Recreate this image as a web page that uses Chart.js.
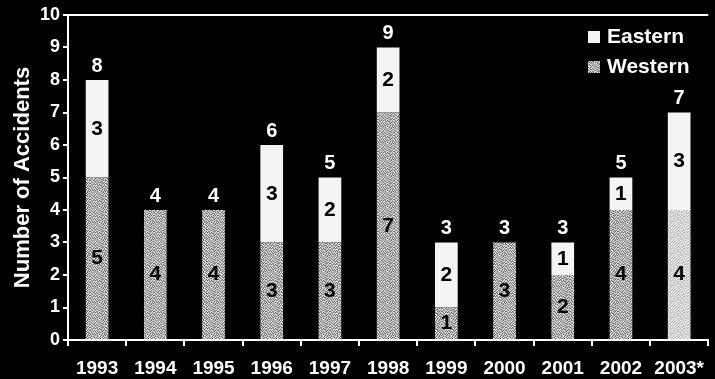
<!DOCTYPE html>
<html>
<head>
<meta charset="utf-8">
<script src="https://cdn.jsdelivr.net/npm/chart.js@4.4.1/dist/chart.umd.min.js"></script>
<style>
  html, body { margin: 0; padding: 0; background: #000; }
  #wrap { width: 715px; height: 379px; }
</style>
</head>
<body>
<div id="wrap"><canvas id="chart" width="715" height="379"></canvas></div>
<script>
const years = ['1993', '1994', '1995', '1996', '1997', '1998', '1999', '2000', '2001', '2002', '2003*'];
const western = [5, 4, 4, 3, 3, 7, 1, 3, 2, 4, 4];
const eastern = [3, 0, 0, 3, 2, 2, 2, 0, 1, 1, 3];
const yTicks = [0, 1, 2, 3, 4, 5, 6, 7, 8, 9, 10];

const FONT = "'Liberation Sans', Arial, sans-serif";

// grainy grey fill, like the halftone in the original
function makeSpeckle(shades) {
    const rows = [
        '2012021021201021',
        '0120210201022102',
        '1201022012101220',
        '2021100120210201',
        '0210212010022012',
        '1022001221201200',
        '2100120102120121',
        '0121201020012102',
        '1020120212102010',
        '2201002101210221',
        '0112201020021102',
        '2010210212102020',
        '1202012001201211',
        '0021120210120102',
        '2110201202011020',
        '1022102010202201'
    ];
    const c = document.createElement('canvas');
    c.width = 16; c.height = 16;
    const g = c.getContext('2d');
    rows.forEach((row, y) => {
        for (let x = 0; x < 16; x++) {
            g.fillStyle = shades[+row[x]];
            g.fillRect(x, y, 1, 1);
        }
    });
    return g.createPattern(c, 'repeat');
}

const ctx = document.getElementById('chart').getContext('2d');
const darkGrain = makeSpeckle(['#6e6e6e', '#b4b4b4', '#e6e6e6']);
const lightGrain = makeSpeckle(['#b8b8b8', '#d8d8d8', '#f0f0f0']);
const westernFill = years.map((y, i) => i === years.length - 1 ? lightGrain : darkGrain);

const labelsPlugin = {
    id: 'barLabels',
    afterDatasetsDraw(chart) {
        const c = chart.ctx;
        c.save();
        c.textAlign = 'center';
        c.textBaseline = 'middle';
        c.font = 'bold 21px ' + FONT;
        c.fillStyle = '#000';
        chart.data.datasets.forEach((ds, di) => {
            const meta = chart.getDatasetMeta(di);
            meta.data.forEach((bar, i) => {
                if (!ds.data[i]) return;
                c.fillText(String(ds.data[i]), bar.x, (bar.y + bar.base) / 2);
            });
        });
        // totals above each stack
        c.fillStyle = '#fff';
        c.font = 'bold 20px ' + FONT;
        const yScale = chart.scales.y;
        const metaW = chart.getDatasetMeta(0);
        years.forEach((yr, i) => {
            const total = western[i] + eastern[i];
            c.fillText(String(total), metaW.data[i].x, yScale.getPixelForValue(total) - 14);
        });
        c.restore();
    },
    afterDraw(chart) {
        const c = chart.ctx;
        const a = chart.chartArea;
        c.save();
        // frame line along the top
        c.strokeStyle = '#fff';
        c.lineWidth = 2;
        c.beginPath();
        c.moveTo(a.left, a.top);
        c.lineTo(a.right, a.top);
        c.stroke();
        // legend, Eastern over Western
        const items = [
            { text: 'Eastern', fill: '#f4f4f4', y: 37 },
            { text: 'Western', fill: darkGrain, y: 67 }
        ];
        c.font = 'bold 21px ' + FONT;
        c.textBaseline = 'middle';
        c.textAlign = 'left';
        items.forEach(it => {
            c.fillStyle = it.fill;
            c.fillRect(588, it.y - 6, 12, 12);
            c.fillStyle = '#fff';
            c.fillText(it.text, 607, it.y);
        });
        c.restore();
    }
};

new Chart(ctx, {
    type: 'bar',
    data: {
        labels: years,
        datasets: [
            {
                label: 'Western',
                data: western,
                backgroundColor: westernFill,
                borderWidth: 0,
                barPercentage: 0.39,
                categoryPercentage: 1
            },
            {
                label: 'Eastern',
                data: eastern,
                backgroundColor: '#f4f4f4',
                borderWidth: 0,
                barPercentage: 0.39,
                categoryPercentage: 1
            }
        ]
    },
    options: {
        responsive: false,
        animation: false,
        layout: { padding: { top: 15, right: 0, left: 0, bottom: 0 } },
        plugins: {
            legend: { display: false },
            tooltip: { enabled: false }
        },
        scales: {
            x: {
                stacked: true,
                afterFit(scale) { scale.height = 39; },
                border: { display: true, color: '#fff', width: 2 },
                grid: { drawOnChartArea: false, drawTicks: true, tickLength: 6, color: '#fff', lineWidth: 2 },
                ticks: {
                    color: '#fff',
                    padding: 11,
                    maxRotation: 0,
                    autoSkip: false,
                    font: { family: FONT, size: 19, weight: 'bold' }
                }
            },
            y: {
                stacked: true,
                min: 0,
                max: 10,
                afterFit(scale) { scale.width = 68; },
                afterBuildTicks(scale) { scale.ticks = yTicks.map(v => ({ value: v })); },
                border: { display: true, color: '#fff', width: 2 },
                grid: { drawOnChartArea: false, drawTicks: true, tickLength: 5, color: '#fff', lineWidth: 2 },
                ticks: {
                    color: '#fff',
                    padding: 3,
                    font: { family: FONT, size: 18, weight: 'bold' }
                },
                title: {
                    display: true,
                    text: 'Number of Accidents',
                    color: '#fff',
                    padding: { top: 10, bottom: 0 },
                    font: { family: FONT, size: 22, weight: 'bold' }
                }
            }
        }
    },
    plugins: [labelsPlugin]
});
</script>
</body>
</html>
